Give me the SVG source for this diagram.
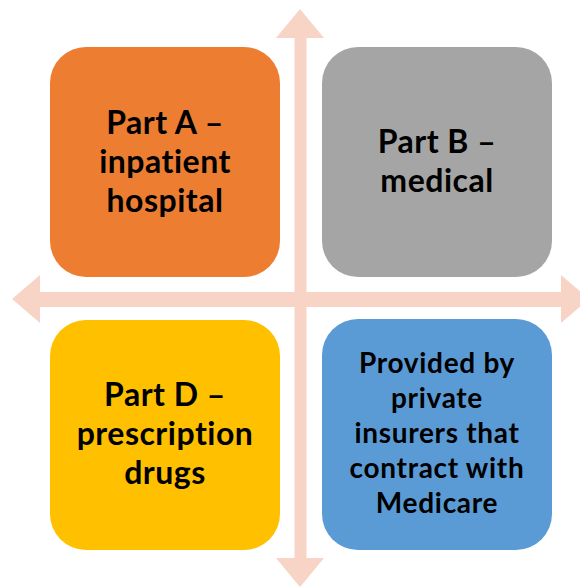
<svg xmlns="http://www.w3.org/2000/svg" width="580" height="587" viewBox="0 0 580 587">
<style>
.arrow{fill:#F8D4C7}
.box{stroke:none}
.t{font-family:Lato,"Liberation Sans",sans-serif;font-weight:700;fill:#000;text-anchor:middle;font-variant-ligatures:none}
.big{font-size:32px;letter-spacing:0.5px}
.small{font-size:28px;letter-spacing:0.7px}
</style>
<rect width="580" height="587" fill="#fff"/>
<g id="connectors">
<polygon class="arrow" points="300,9 324,38 306.5,38 306.5,558 324,558 300,587 276,558 294.5,558 294.5,38 276,38"/>
<polygon class="arrow" points="12,299 40,275 40,292 561,292 561,275 589,299 561,323 561,307 40,307 40,323"/>
</g>
<g id="partA">
<rect class="box" x="50" y="47" width="230" height="230" rx="36" fill="#ED7D31"/>
<text class="t big" x="165" y="134">Part A –</text>
<text class="t big" x="165" y="173">inpatient</text>
<text class="t big" x="165" y="212">hospital</text>
</g>
<g id="partB">
<rect class="box" x="322" y="47" width="230" height="230" rx="36" fill="#A5A5A5"/>
<text class="t big" x="437" y="153">Part B –</text>
<text class="t big" x="437" y="192">medical</text>
</g>
<g id="partD">
<rect class="box" x="50" y="320" width="230" height="230" rx="36" fill="#FFC000"/>
<text class="t big" x="165" y="406">Part D –</text>
<text class="t big" x="165" y="445">prescription</text>
<text class="t big" x="165" y="484">drugs</text>
</g>
<g id="partC">
<rect class="box" x="322" y="319" width="230" height="231" rx="36" fill="#5B9BD5"/>
<text class="t small" x="437" y="373">Provided by</text>
<text class="t small" x="437" y="408">private</text>
<text class="t small" x="437" y="443">insurers that</text>
<text class="t small" x="437" y="478">contract with</text>
<text class="t small" x="437" y="513">Medicare</text>
</g>
</svg>
